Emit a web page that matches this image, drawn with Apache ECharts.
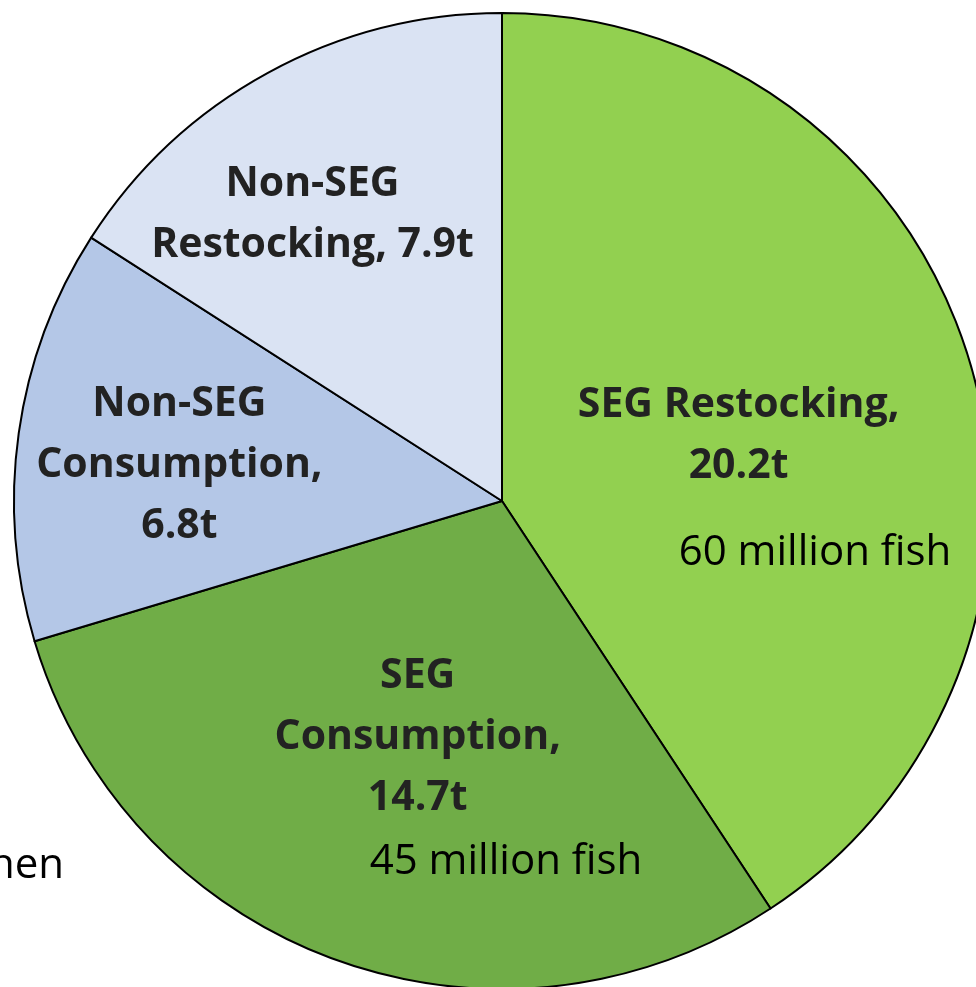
<!DOCTYPE html>
<html>
<head>
<meta charset="utf-8">
<script src="https://cdn.jsdelivr.net/npm/echarts@6/dist/echarts.min.js"></script>
<style>
  html, body { margin: 0; padding: 0; background: #fff; }
  #chart { width: 976px; height: 987px; }
</style>
</head>
<body>
<div id="chart"></div>
<script>
// slice data (tonnes), clockwise from 12 o'clock
const categories = ['SEG Restocking', 'SEG Consumption', 'Non-SEG Consumption', 'Non-SEG Restocking']
const tonnes = [20.2, 14.7, 6.8, 7.9]
const labelTexts = ['SEG Restocking,\n20.2t', 'SEG\nConsumption,\n14.7t', 'Non-SEG\nConsumption,\n6.8t', 'Non-SEG\nRestocking, 7.9t']
const fishNotes = ['60 million fish', '45 million fish']
const colors = ['#92D050', '#70AD47', '#B4C7E7', '#DAE3F3']

// label nudges away from the default mid-radius spot
const labelShift = [[0, 6], [0, 4], [-78, -1], [-71, -69]]

const chart = echarts.init(document.getElementById('chart'))

const noteStyle = {
  fill: '#000',
  font: '42px "Open Sans"',
  textAlign: 'center',
  textVerticalAlign: 'middle'
}

const option = {
  animation: false,
  series: [
    {
      type: 'pie',
      center: [502, 501],
      radius: 488,
      startAngle: 90,
      clockwise: true,
      data: categories.map((name, i) => ({
        name,
        value: tonnes[i],
        itemStyle: { color: colors[i] }
      })),
      itemStyle: {
        borderColor: '#000',
        borderWidth: 2
      },
      label: {
        show: true,
        position: 'inside',
        formatter: (p) => labelTexts[p.dataIndex],
        color: '#222',
        fontFamily: 'Open Sans',
        fontWeight: 'bold',
        fontSize: 41,
        lineHeight: 61,
        align: 'center'
      },
      labelLine: { show: false },
      labelLayout: (params) => ({
        dx: labelShift[params.dataIndex][0],
        dy: labelShift[params.dataIndex][1]
      }),
      emphasis: { disabled: true }
    }
  ],
  graphic: [
    {
      type: 'text',
      z: 100,
      x: 815,
      y: 553,
      style: Object.assign({ text: fishNotes[0] }, noteStyle)
    },
    {
      type: 'text',
      z: 100,
      x: 506,
      y: 862,
      style: Object.assign({ text: fishNotes[1] }, noteStyle)
    },
    {
      type: 'text',
      z: 100,
      x: 64,
      y: 866,
      style: Object.assign({ text: 'when' }, noteStyle, { textAlign: 'right' })
    }
  ]
}

chart.setOption(option)
</script>
</body>
</html>
